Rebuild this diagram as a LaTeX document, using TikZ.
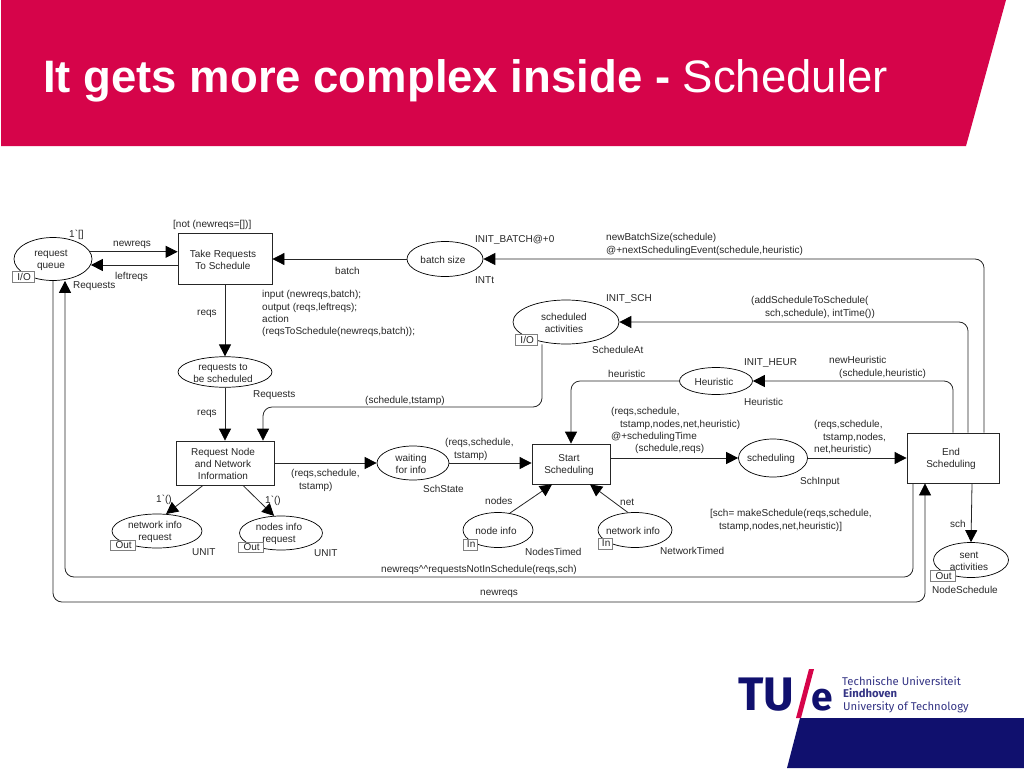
\documentclass[tikz,border=0pt]{standalone}
\usepackage{fontspec}
\usetikzlibrary{shapes.geometric,arrows.meta,calc}
\setmainfont{Liberation Sans}
\newfontfamily\lab{Liberation Sans}
\newfontfamily\logofont{Fira Sans}
\newcommand\up{\rule{0pt}{9.3pt}}
\definecolor{tured}{HTML}{D6044A}
\definecolor{tublue}{HTML}{10106E}
\definecolor{ink}{HTML}{262626}
\tikzset{
  netfont/.style={font=\lab\fontsize{10}{12.2}\selectfont,text=ink},
  place/.style={draw=black,fill=white,ellipse,line width=0.7pt,inner sep=0pt,align=center,netfont,execute at begin node={\hspace*{-4pt}}},
  trans/.style={draw=ink,fill=white,rectangle,line width=0.8pt,inner sep=0pt,align=center,netfont,execute at begin node={\hspace*{-4pt}}},
  port/.style={draw=gray,fill=white,rectangle,line width=0.6pt,inner sep=0pt,netfont,anchor=north west,minimum height=10.5pt,text depth=0pt},
  lbl/.style={netfont,anchor=west,inner sep=0pt,align=left,yshift=-1.5pt},
  lbltop/.style={netfont,anchor=north west,inner sep=0pt,align=left,yshift=-2.5pt},
  arc/.style={draw=ink,line width=0.8pt,-{Triangle[length=12pt,width=12pt,color=black]},rounded corners=9pt},
  logotext/.style={font=\logofont\fontsize{11.3}{12}\selectfont,text=tublue!85!white,anchor=base west,inner sep=0pt}
}
\begin{document}
\begin{tikzpicture}[x=1pt,y=-1pt]
\useasboundingbox (0,0) rectangle (1024,768);
% banner and footer
\fill[tured] (1,0) -- (1006,0) -- (966,146) -- (1,146) -- cycle;
\node[anchor=base west,inner sep=0pt,text=white,font=\fontsize{45.5}{50}\selectfont] (title) at (43,92.5) {\textbf{It gets more complex inside -} Scheduler};
\fill[tublue] (800,718) -- (1024,718) -- (1024,768) -- (787,768) -- cycle;
\node[anchor=base west,inner sep=0pt,text=tublue,font=\logofont\bfseries\fontsize{47}{50}\selectfont] (logoTU) at (738,710) {TU};
\fill[tured] (809,669) -- (814,669) -- (801,718) -- (796,718) -- cycle;
\node[anchor=base west,inner sep=0pt,text=tublue,font=\logofont\bfseries\fontsize{39}{40}\selectfont] (logoE) at (811,710) {e};
\node[logotext] (logoA) at (842,685) {Technische Universiteit};
\node[logotext,font=\logofont\bfseries\fontsize{11.3}{12}\selectfont] (logoB) at (843,697) {Eindhoven};
\node[logotext] (logoC) at (843,710) {University of Technology};

% places
\node[place,minimum width=78pt,minimum height=43pt] (queue) at (53,259) {\up request\\queue};
\node[place,minimum width=76pt,minimum height=35pt] (batch) at (445,259) {\up batch size};
\node[place,minimum width=94pt,minimum height=30pt] (toSched) at (225,372) {\up requests to\\be scheduled};
\node[place,minimum width=106pt,minimum height=44pt] (schedAct) at (566,322) {\up scheduled\\activities};
\node[place,minimum width=73pt,minimum height=27pt] (heur) at (716,381) {\up Heuristic};
\node[place,minimum width=72pt,minimum height=34pt] (wait) at (413,463) {\up waiting\\for info};
\node[place,minimum width=69pt,minimum height=38pt] (sching) at (773,458) {\up scheduling};
\node[place,minimum width=90pt,minimum height=34pt] (netReq) at (157,531) {\up network info\\request};
\node[place,minimum width=83pt,minimum height=34pt] (nodeReq) at (281,533) {\up nodes info\\request};
\node[place,minimum width=70pt,minimum height=35pt] (nodeInfo) at (498,530) {\up node info};
\node[place,minimum width=74pt,minimum height=35pt] (netInfo) at (635,530) {\up network info};
\node[place,minimum width=75pt,minimum height=35pt] (sent) at (971,560) {\up sent\\activities};
% transitions
\node[trans,minimum width=94pt,minimum height=51pt] (take) at (225,258.5) {\up Take Requests\\To Schedule};
\node[trans,minimum width=98pt,minimum height=44pt] (reqNode) at (225,463) {\up Request Node\\and Network\\Information};
\node[trans,minimum width=78pt,minimum height=40pt] (start) at (571,464) {\up Start\\Scheduling};
\node[trans,minimum width=92pt,minimum height=50pt] (endS) at (953,458) {\up End\\Scheduling};

% connectors
\draw[arc] (queue.11) -- (queue.11 -| take.west);
\draw[arc] (queue.-9 -| take.west) -- (queue.-9);
\draw[arc] (batch.west) -- (take.east |- batch.west);
\draw[arc] (take.south) -- (toSched.north);
\draw[arc] (toSched.south) -- (reqNode.north);
\coordinate (bendA) at (984,259);
\draw[arc] ([xshift=31pt]endS.north) -- (bendA) -- (batch.east);
\coordinate (bendB) at (968,322);
\draw[arc] ([xshift=15pt]endS.north) -- (bendB) -- (schedAct.east);
\coordinate (bendC) at (953,381);
\draw[arc] (endS.north) -- (bendC) -- (heur.east);
\coordinate (bendD) at (571,381);
\draw[arc] (heur.west) -- (bendD) -- (start.north);
\coordinate (bendE1) at (542,407);
\coordinate (bendE2) at (263,407);
\draw[arc] (schedAct.-93 -| bendE1) -- (bendE1) -- (bendE2) -- (bendE2 |- reqNode.north);
\draw[arc] (reqNode.east) -- (wait.west);
\draw[arc] (wait.east) -- (start.west |- wait.east);
\draw[arc] (start.east |- sching.west) -- (sching.west);
\draw[arc] (sching.east) -- (endS.west);
\draw[arc] ([xshift=-22pt]reqNode.south) -- (netReq.62);
\draw[arc] ([xshift=18pt]reqNode.south) -- (nodeReq.112);
\draw[arc] (nodeInfo.55) -- ([xshift=-19pt]start.south);
\draw[arc] (netInfo.112) -- ([xshift=19pt]start.south);
\draw[arc] ([xshift=19pt]endS.south) -- (sent.north);
\coordinate (bendF1) at (913,577);
\coordinate (bendF2) at (65,577);
\draw[arc] ([xshift=-40pt]endS.south) -- (bendF1) -- (bendF2) -- (queue.south -| bendF2);
\coordinate (bendG1) at (53,602);
\coordinate (bendG2) at (925,602);
\draw[arc] (queue.south) -- (bendG1) -- (bendG2) -- ([xshift=-28pt]endS.south);

% port tags
\node[port,minimum width=22pt] (p1) at (12,271) {\,I/O};
\node[port,minimum width=22pt] (p2) at (515,334) {\,I/O};
\node[port,minimum width=25pt] (p3) at (110,539.5) {\,Out};
\node[port,minimum width=25pt] (p4) at (238,541.5) {\,Out};
\node[port,minimum width=14pt] (p5) at (463,539) {\,In};
\node[port,minimum width=14pt] (p6) at (598,538) {\,In};
\node[port,minimum width=25pt] (p7) at (930,570) {\,Out};

% labels
\node[lbl] (t1) at (69,233) {1`[]};
\node[lbl] (t2) at (173,223) {[not (newreqs=[])]};
\node[lbl] (t3) at (113,243) {newreqs};
\node[lbl] (t4) at (115,275) {leftreqs};
\node[lbl] (t5) at (73,285) {Requests};
\node[lbl] (t6) at (335,269) {batch};
\node[lbltop] (t7) at (262,288) {input (newreqs,batch);\\output (reqs,leftreqs);\\action\\(reqsToSchedule(newreqs,batch));};
\node[lbl] (t8) at (197,312) {reqs};
\node[lbl] (t9) at (197,412) {reqs};
\node[lbl] (t10) at (253,394) {Requests};
\node[lbl] (t11) at (365,399) {(schedule,tstamp)};
\node[lbl] (t12) at (475,238) {INIT\_BATCH@+0};
\node[lbl] (t13) at (475,279) {INTt};
\node[lbltop] (t14) at (606,231) {newBatchSize(schedule)\\@+nextSchedulingEvent(schedule,heuristic)};
\node[lbl] (t15) at (606,297) {INIT\_SCH};
\node[lbl] (t16) at (592,348) {ScheduleAt};
\node[lbltop] (t17) at (751,294) {(addScheduleToSchedule(\\\hspace*{14pt}sch,schedule), intTime())};
\node[lbltop] (t18) at (829,354) {newHeuristic\\\hspace*{10pt}(schedule,heuristic)};
\node[lbl] (t19) at (744,362) {INIT\_HEUR};
\node[lbl] (t20) at (744,400) {Heuristic};
\node[lbl] (t21) at (608,372) {heuristic};
\node[lbltop] (t22) at (611,405) {(reqs,schedule,\\\hspace*{9pt}tstamp,nodes,net,heuristic)\\@+schedulingTime\\\hspace*{24pt}(schedule,reqs)};
\node[lbltop] (t23) at (814,418) {(reqs,schedule,\\\hspace*{9pt}tstamp,nodes,\\net,heuristic)};
\node[lbltop] (t24) at (445,436) {(reqs,schedule,\\\hspace*{9pt}tstamp)};
\node[lbltop] (t25) at (291,467) {(reqs,schedule,\\\hspace*{8pt}tstamp)};
\node[lbl] (t26) at (423,487) {SchState};
\node[lbl] (t27) at (800,480) {SchInput};
\node[lbl] (t28) at (485,499) {nodes};
\node[lbl] (t29) at (620,501) {net};
\node[lbltop] (t30) at (710,507) {[sch= makeSchedule(reqs,schedule,\\\hspace*{9pt}tstamp,nodes,net,heuristic)]};
\node[lbl] (t31) at (525,550) {NodesTimed};
\node[lbl] (t32) at (660,549) {NetworkTimed};
\node[lbl] (t33) at (950,522) {sch};
\node[lbl] (t34) at (932,588) {NodeSchedule};
\node[lbl] (t35) at (156,498) {1`()};
\node[lbl] (t36) at (265,499) {1`()};
\node[lbl] (t37) at (192,551) {UNIT};
\node[lbl] (t38) at (314,552) {UNIT};
\node[lbl] (t39) at (381,568) {newreqs\textasciicircum\textasciicircum requestsNotInSchedule(reqs,sch)};
\node[lbl] (t40) at (480,592) {newreqs};
\end{tikzpicture}
\end{document}
